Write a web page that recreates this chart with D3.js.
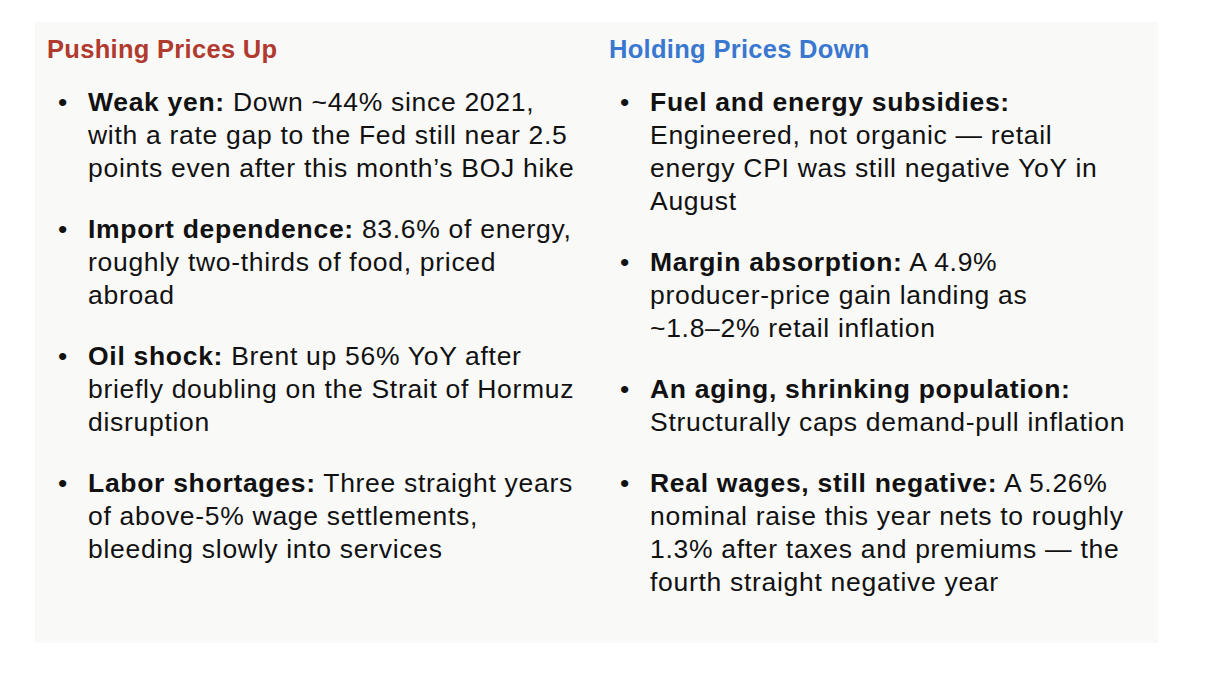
<!DOCTYPE html>
<html><head><meta charset="utf-8">
<script src="https://cdn.jsdelivr.net/npm/d3@7"></script>
<style>body{margin:0;background:#fff;}</style>
</head><body><div id="chart"></div>
<script>
// column titles
const titles = ['Pushing Prices Up', 'Holding Prices Down'];
const titleColors = ['#b03a2e', '#3a78d0'];

// bullet items: bold lead + wrapped lines
const upLeads = ['Weak yen:', 'Import dependence:', 'Oil shock:', 'Labor shortages:'];
const upLines = [
  [' Down ~44% since 2021,', 'with a rate gap to the Fed still near 2.5', 'points even after this month\u2019s BOJ hike'],
  [' 83.6% of energy,', 'roughly two-thirds of food, priced', 'abroad'],
  [' Brent up 56% YoY after', 'briefly doubling on the Strait of Hormuz', 'disruption'],
  [' Three straight years', 'of above-5% wage settlements,', 'bleeding slowly into services']
];
const downLeads = ['Fuel and energy subsidies:', 'Margin absorption:', 'An aging, shrinking population:', 'Real wages, still negative:'];
const downLines = [
  ['', 'Engineered, not organic \u2014 retail', 'energy CPI was still negative YoY in', 'August'],
  [' A 4.9%', 'producer-price gain landing as', '~1.8\u20132% retail inflation'],
  ['', 'Structurally caps demand-pull inflation'],
  [' A 5.26%', 'nominal raise this year nets to roughly', '1.3% after taxes and premiums \u2014 the', 'fourth straight negative year']
];

const W = 1228, H = 678;
const lineH = 33, itemGap = 28, fontSize = 26.5;
const font = '"Liberation Sans", Arial, Helvetica, sans-serif';

const svg = d3.select('#chart').append('svg').attr('width', W).attr('height', H);

svg.append('rect').attr('x', 35).attr('y', 22).attr('width', 1123).attr('height', 621)
  .attr('fill', '#f9f9f8');

const cols = [
  {x: 47, leads: upLeads, lines: upLines},
  {x: 609, leads: downLeads, lines: downLines}
];

cols.forEach((c, ci) => {
  svg.append('text').attr('x', c.x).attr('y', 58)
    .attr('font-family', font).attr('font-size', 25.5).attr('font-weight', 'bold')
    .attr('letter-spacing', 0.3)
    .attr('fill', titleColors[ci]).text(titles[ci]);

  let y = 111;
  c.leads.forEach((lead, i) => {
    svg.append('text').attr('x', c.x + 11).attr('y', y)
      .attr('font-family', font).attr('font-size', fontSize).attr('fill', '#111').text('\u2022');
    const lines = c.lines[i];
    lines.forEach((ln, li) => {
      const t = svg.append('text').attr('x', c.x + 41).attr('y', y + li * lineH)
        .attr('font-family', font).attr('font-size', fontSize).attr('fill', '#111')
        .attr('letter-spacing', 0.7)
        .attr('xml:space', 'preserve').style('white-space', 'pre');
      if (li === 0) {
        t.append('tspan').attr('font-weight', 'bold').text(lead);
        if (ln) t.append('tspan').text(ln);
      } else t.text(ln);
    });
    y += lines.length * lineH + itemGap;
  });
});
</script></body></html>
